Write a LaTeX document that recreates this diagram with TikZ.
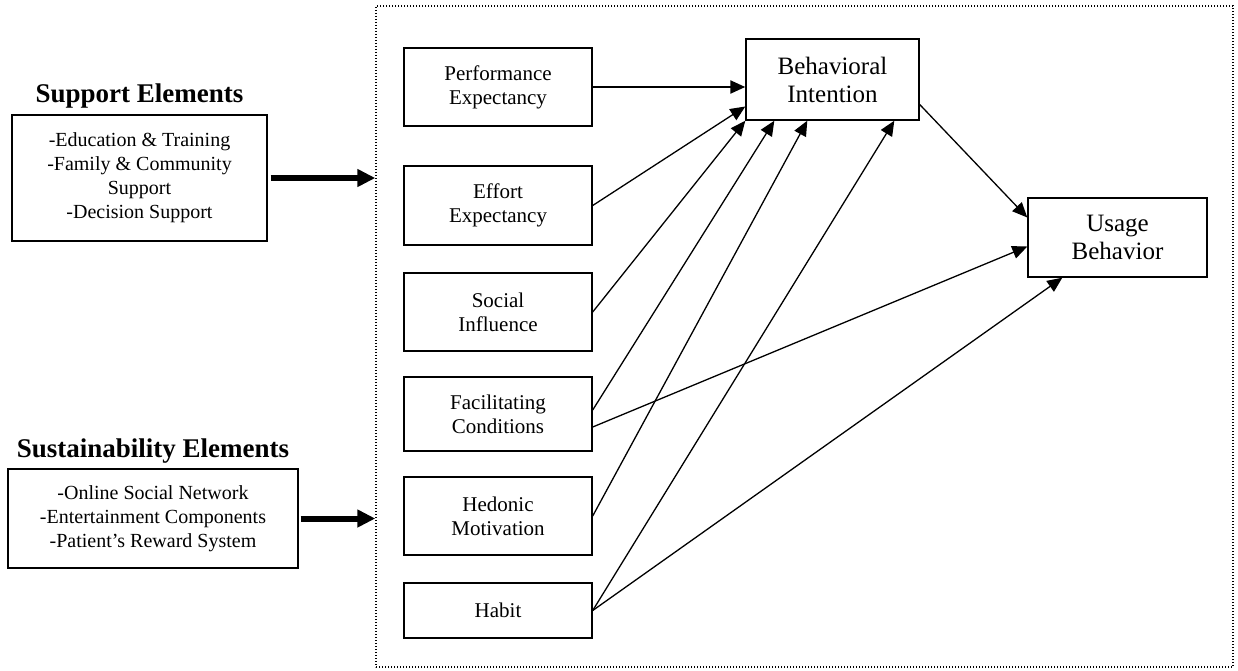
\documentclass[tikz,border=0pt]{standalone}
\usepackage{fontspec}
\setmainfont{Liberation Serif}
\usetikzlibrary{positioning,arrows.meta}

\begin{document}
\begin{tikzpicture}[
    x=1pt, y=-1pt,
    construct/.style={rectangle, draw, line width=1.4pt, minimum width=188pt,
      align=center, font=\fontsize{21}{24}\selectfont, inner sep=2pt},
    outcome/.style={rectangle, draw, line width=1.4pt, align=center,
      font=\fontsize{25}{28}\selectfont},
    element/.style={rectangle, draw, line width=1.4pt, align=center,
      font=\fontsize{20}{24}\selectfont},
    heading/.style={font=\fontsize{27}{30}\selectfont\bfseries, inner sep=0pt},
    link/.style={-{Triangle[length=15pt,width=13pt]}, line width=1.3pt},
    feed/.style={-{Triangle[length=18pt,width=17pt]}, line width=6pt},
    region/.style={rectangle, draw, line width=1.4pt,
      dash pattern=on 1.4pt off 1.6pt}
  ]
    \useasboundingbox (0,0) rectangle (1238,670);

    % dotted model frame
    \node[region, minimum width=857pt, minimum height=661pt] (frame) at (804.5,336.5) {};

    % left elements
    \node[element, minimum width=255pt, minimum height=126pt] (sup) at (139.5,178)
      {-Education \& Training\\-Family \& Community\\Support\\-Decision Support};
    \node[heading, above=6pt of sup] {Support Elements};
    \node[element, minimum width=290pt, minimum height=99pt] (sus) at (153,518.5)
      {-Online Social Network\\-Entertainment Components\\-Patient’s Reward System};
    \node[heading, above=5pt of sus] {Sustainability Elements};

    % constructs
    \node[construct, minimum height=78pt] (pe) at (498,87) {Performance\\Expectancy};
    \node[construct, minimum height=79pt] (ee) at (498,205.5) {Effort\\Expectancy};
    \node[construct, minimum height=78pt] (si) at (498,312) {Social\\Influence};
    \node[construct, minimum height=74pt] (fc) at (498,414) {Facilitating\\Conditions};
    \node[construct, minimum height=78pt] (hm) at (498,516) {Hedonic\\Motivation};
    \node[construct, minimum height=55pt] (hab) at (498,610.5) {Habit};

    \node[outcome, minimum width=173pt, minimum height=81pt] (bi) at (832.5,79.5) {Behavioral\\Intention};
    \node[outcome, minimum width=179pt, minimum height=79pt] (ub) at (1117.5,237.5) {Usage\\Behavior};

    % arrows
    \draw[feed, shorten <=3pt] (sup) -- (sup -| frame.west);
    \draw[feed, shorten <=2pt] (sus) -- (sus -| frame.west);

    \draw[link, line width=2.3pt] (pe) -- (pe -| bi.west);
    \draw[link] (ee.east) -- ([yshift=-27pt]bi.west);
    \draw[link] (si.east) -- (bi.south west);
    \draw[link] ([yshift=4pt]fc.east) -- ([xshift=29pt]bi.south west);
    \draw[link] (hm.east) -- ([xshift=62pt]bi.south west);
    \draw[link] (hab.east) -- ([xshift=149pt]bi.south west);
    \draw[link] ([yshift=-25pt]bi.east) -- ([yshift=20pt]ub.west);
    \draw[link] ([yshift=-13pt]fc.east) -- ([yshift=-9pt]ub.west);
    \draw[link] (hab.east) -- ([xshift=35pt]ub.south west);
\end{tikzpicture}
\end{document}
